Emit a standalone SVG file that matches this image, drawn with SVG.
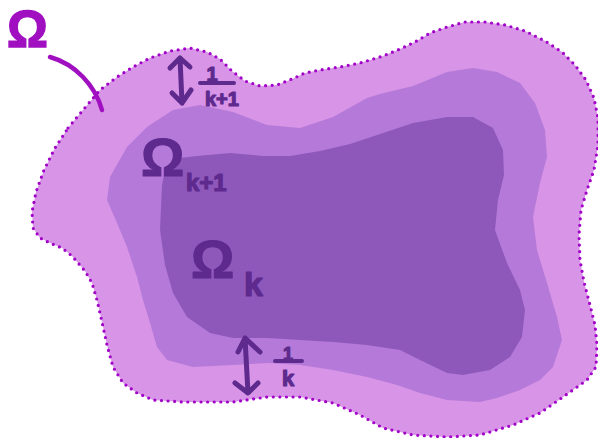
<svg xmlns="http://www.w3.org/2000/svg" width="598" height="438" viewBox="0 0 598 438">
<style>
.lab{font-family:"Liberation Sans",Arial,sans-serif;font-weight:bold;fill:#5e2a8e;stroke:#5e2a8e;stroke-width:1.2;stroke-linejoin:round}
.ar{fill:none;stroke:#5e2a8e;stroke-width:5;stroke-linecap:round;stroke-linejoin:round}
.bar{stroke:#5e2a8e;stroke-width:4;stroke-linecap:round}
</style>
<rect width="598" height="438" fill="#ffffff"/>
<g id="omega-outer">
<path id="outer" fill="#d894e6" d="M68,128 L83,110 L100,90 L117,77 L133,67 L150,58 L170,51 L190,48 L207,52 L220,59 L232,71 L245,81 L260,86 L277,85 L292,79 L305,73 L320,70 L340,67 L360,63 L383,56 L400,49 L415,42 L430,33 L447,27 L465,22 L485,22 L505,25 L525,31 L545,41 L562,52 L575,65 L586,80 L594,98 L598,118 L598,145 L594,170 L587,190 L581,210 L579,235 L580,260 L584,282 L590,305 L595,325 L597,345 L596,367 L587,380 L563,397 L540,413 L513,425 L480,435 L447,437 L413,435 L383,428 L360,415 L333,403 L300,397 L267,397 L233,402 L183,402 L153,400 L137,393 L123,383 L113,367 L107,345 L102,322 L97,300 L92,283 L85,271 L72,256 L62,248 L50,243 L40,238 L33,228 L32,212 L36,192 L44,170 L55,148 Z"/>
</g>
<g id="omega-k1">
<path fill="#b57ad9" d="M107,200 L110,177 L127,147 L147,127 L173,110 L200,105 L233,112 L267,125 L300,128 L333,117 L367,98 L380,94 L413,86 L447,72 L473,68 L497,72 L520,83 L535,103 L545,130 L547,157 L540,183 L533,217 L537,250 L547,283 L557,317 L562,340 L553,367 L540,380 L520,390 L497,398 L480,402 L447,400 L420,393 L397,385 L367,377 L333,370 L300,365 L267,363 L233,365 L193,367 L167,360 L157,347 L150,323 L143,300 L137,277 L127,247 L117,223 Z"/>
</g>
<g id="omega-k">
<path fill="#8e58bb" d="M162,185 L165,170 L180,158 L197,156 L230,153 L263,156 L290,156 L320,151 L350,144 L380,134 L413,123 L447,117 L473,117 L493,128 L503,150 L504,175 L498,200 L495,230 L507,263 L520,290 L525,310 L522,337 L510,357 L490,370 L463,375 L447,373 L420,360 L400,350 L367,345 L333,342 L267,338 L233,338 L210,333 L187,317 L173,293 L165,265 L160,230 Z"/>
</g>
<g id="boundary">
<path fill="none" stroke="#a000c8" stroke-width="3.2" stroke-linecap="round" stroke-dasharray="0 6.6" d="M68,128 L83,110 L100,90 L117,77 L133,67 L150,58 L170,51 L190,48 L207,52 L220,59 L232,71 L245,81 L260,86 L277,85 L292,79 L305,73 L320,70 L340,67 L360,63 L383,56 L400,49 L415,42 L430,33 L447,27 L465,22 L485,22 L505,25 L525,31 L545,41 L562,52 L575,65 L586,80 L594,98 L598,118 L598,145 L594,170 L587,190 L581,210 L579,235 L580,260 L584,282 L590,305 L595,325 L597,345 L596,367 L587,380 L563,397 L540,413 L513,425 L480,435 L447,437 L413,435 L383,428 L360,415 L333,403 L300,397 L267,397 L233,402 L183,402 L153,400 L137,393 L123,383 L113,367 L107,345 L102,322 L97,300 L92,283 L85,271 L72,256 L62,248 L50,243 L40,238 L33,228 L32,212 L36,192 L44,170 L55,148 Z"/>
</g>
<g id="label-omega">
<text x="7" y="47" font-family="Liberation Sans, Arial, sans-serif" font-weight="bold" font-size="51" fill="#a010c0" stroke="#a010c0" stroke-width="1.5">Ω</text>
</g>
<g id="connectors">
<path d="M50,57 C75,64 95,85 102,110" fill="none" stroke="#a010c0" stroke-width="4.5" stroke-linecap="round"/>
<path class="ar" d="M180,58 L182,103 M170,68 L180,58 L190,67 M172,93 L182,103 L191,90"/>
<path class="ar" d="M245,338 L248,393 M238,352 L245,338 L260,352 M235,383 L248,393 L258,383"/>
</g>
<g id="label-top">
<text class="lab" x="212" y="81" font-size="20" text-anchor="middle">1</text>
<line class="bar" x1="200" y1="83" x2="234" y2="83"/>
<text class="lab" x="205" y="106" font-size="20">k+1</text>
</g>
<g id="label-bottom">
<text class="lab" x="288" y="360" font-size="18" text-anchor="middle">1</text>
<line class="bar" x1="275" y1="361" x2="302" y2="361"/>
<text class="lab" x="282" y="386" font-size="22">k</text>
</g>
<g id="label-omega-k1">
<text class="lab" x="141" y="176" font-size="54">Ω</text>
<text class="lab" x="186" y="191" font-size="24">k+1</text>
</g>
<g id="label-omega-k">
<text class="lab" x="191" y="278" font-size="54">Ω</text>
<text class="lab" x="244" y="296" font-size="34">k</text>
</g>
</svg>
